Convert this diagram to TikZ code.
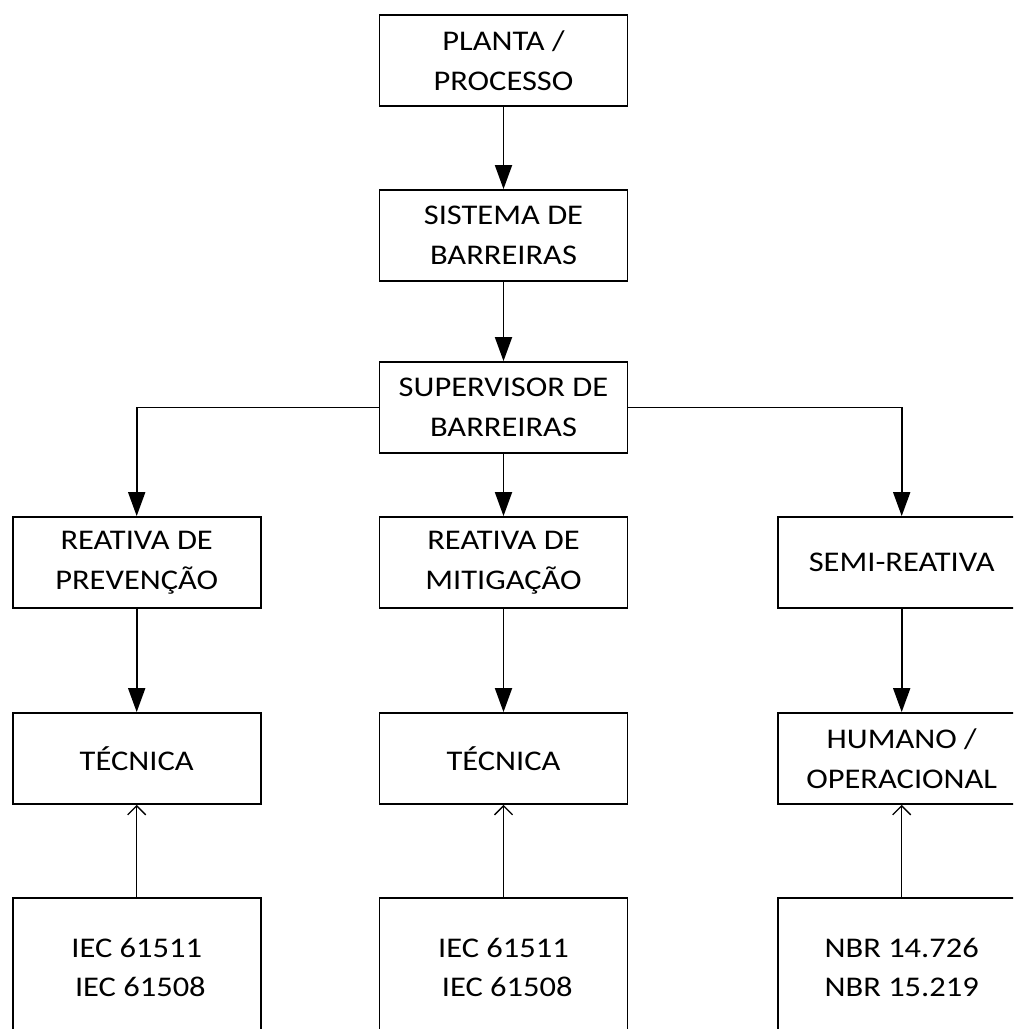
\documentclass[tikz,border=0pt]{standalone}
\usepackage{fontspec}
\setmainfont{Carlito}[FakeStretch=1.14]
\usetikzlibrary{arrows.meta}
\begin{document}
\begin{tikzpicture}[x=1pt,y=-1pt,
  box/.style={draw, line width=1.8pt, minimum width=248pt, minimum height=91pt,
    inner sep=0pt, align=center, font=\fontsize{28.5}{39.5}\selectfont},
  normbox/.style={box, minimum height=139pt},
  down/.style={line width=1.8pt, -{Triangle[width=17pt,length=24pt]}},
  up/.style={line width=1.3pt, -{Straight Barb[width=18pt,length=9pt,line width=1.3pt]}}]
\useasboundingbox (0,0) rectangle (1013,1029);
\clip (0,0) rectangle (1013,1029);

% main chain
\node[box] (planta)  at (503.5,60.5)  {PLANTA /\\PROCESSO};
\node[box] (sistema) at (503.5,235.5) {SISTEMA DE\\BARREIRAS};
\node[box] (super)   at (503.5,407.5) {SUPERVISOR DE\\BARREIRAS};

% barrier types
\node[box] (prev) at (136.7,562.5) {REATIVA DE\\PREVENÇÃO};
\node[box] (mit)  at (503.5,562.5) {REATIVA DE\\MITIGAÇÃO};
\node[box] (semi) at (901.7,562.5) {SEMI-REATIVA};

% barrier nature
\node[box] (tec1) at (136.7,758.5) {TÉCNICA};
\node[box] (tec2) at (503.5,758.5) {TÉCNICA};
\node[box] (hum)  at (901.7,758.5) {HUMANO /\\OPERACIONAL};

% standards
\node[normbox] (std1) at (136.7,967.5) {IEC 61511\\\ IEC 61508};
\node[normbox] (std2) at (503.5,967.5) {IEC 61511\\\ IEC 61508};
\node[normbox] (std3) at (901.7,967.5) {NBR 14.726\\NBR 15.219};

% connectors
\draw[down] (planta) -- (sistema);
\draw[down] (sistema) -- (super);
\draw[down] (super.west) -| (prev.north);
\draw[down] (super) -- (mit);
\draw[down] (super.east) -| (semi.north);
\draw[down] (prev) -- (tec1);
\draw[down] (mit) -- (tec2);
\draw[down] (semi) -- (hum);
\draw[up] (std1) -- (tec1);
\draw[up] (std2) -- (tec2);
\draw[up] (std3) -- (hum);
\end{tikzpicture}
\end{document}
